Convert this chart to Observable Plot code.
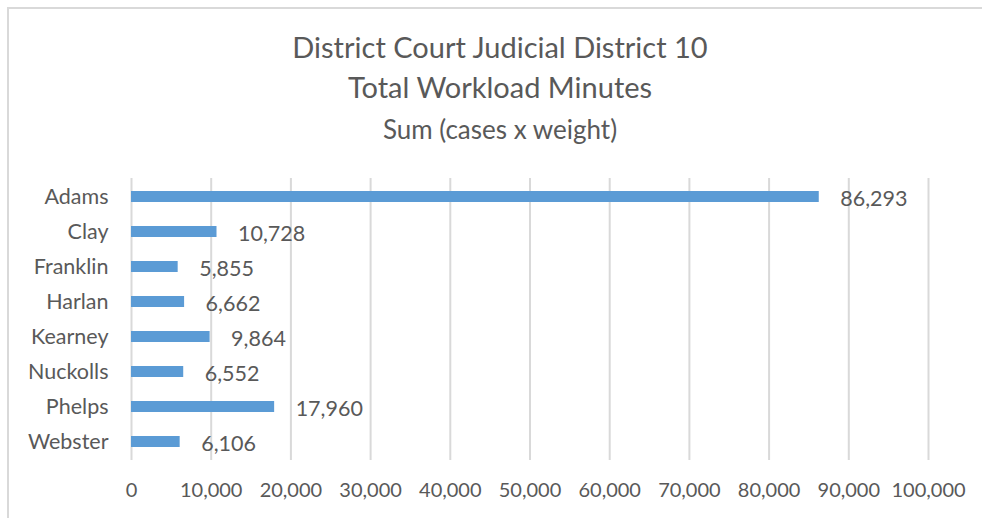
<!DOCTYPE html>
<html><head><meta charset="utf-8">
<script src="https://cdn.jsdelivr.net/npm/d3@7"></script>
<script src="https://cdn.jsdelivr.net/npm/@observablehq/plot@0.6"></script>
<style>
body{margin:0;background:#fff;font-family:Lato,sans-serif;width:982px;height:518px;overflow:hidden;position:relative;}
#frame{position:absolute;left:7px;top:7px;width:990px;height:520px;border:2px solid #D9D9D9;box-sizing:border-box;}
.t{position:absolute;left:9px;width:982px;text-align:center;color:#595959;line-height:1;white-space:nowrap;}
#chart{position:absolute;left:0;top:160px;}
</style></head><body>
<div id="frame"></div>
<div class="t" id="t1" style="top:32px;font-size:29px">District Court Judicial District 10</div>
<div class="t" id="t2" style="top:72px;font-size:29px">Total Workload Minutes</div>
<div class="t" id="t3" style="top:116px;font-size:26px">Sum (cases x weight)</div>
<div id="chart"></div>
<script>
const counties = ["Adams","Clay","Franklin","Harlan","Kearney","Nuckolls","Phelps","Webster"];
const minutes = [86293,10728,5855,6662,9864,6552,17960,6106];
const xTicks = [0,10000,20000,30000,40000,50000,60000,70000,80000,90000,100000];

const data = counties.map((c,i)=>({county:c, minutes:minutes[i]}));
const fmt = d3.format(",");

const chart = Plot.plot({
  width: 982,
  height: 350,
  marginTop: 18,
  marginBottom: 50,
  marginLeft: 131,
  marginRight: 54,
  style: {fontFamily: "Lato, sans-serif", fontSize: "20px", color: "#595959", background: "transparent"},
  x: {domain: [0, 100000]},
  y: {domain: counties, paddingInner: 0.68, paddingOuter: 0.34},
  marks: [
    Plot.ruleX(xTicks, {stroke: "#D9D9D9", strokeWidth: 2}),
    Plot.barX(data, {x: "minutes", y: "county", fill: "#5B9BD5"}),
    Plot.text(data, {x: "minutes", y: "county", text: d => fmt(d.minutes), textAnchor: "start", dx: 21, dy: 2, fill: "#595959", fontSize: 21.5}),
    Plot.axisX({ticks: xTicks, tickFormat: fmt, tickSize: 0, tickPadding: 22, fontSize: 20, label: null}),
    Plot.axisY({tickSize: 0, tickPadding: 23, fontSize: 21.5, label: null})
  ]
});
document.getElementById("chart").appendChild(chart);
</script>
</body></html>
